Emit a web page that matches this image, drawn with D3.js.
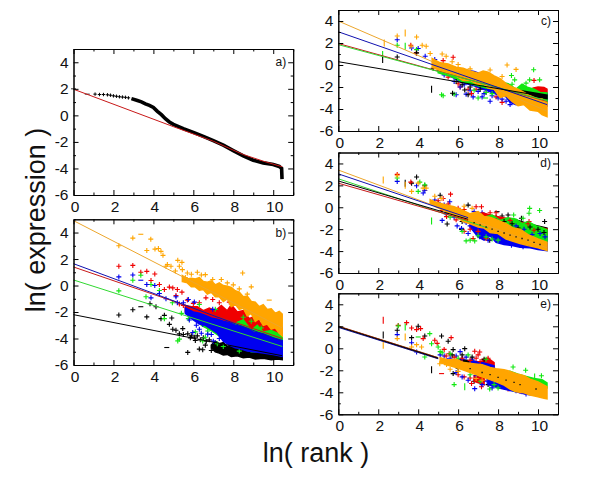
<!DOCTYPE html>
<html><head><meta charset="utf-8">
<script src="https://d3js.org/d3.v7.min.js"></script>
<style>html,body{margin:0;background:#fff}svg{display:block}text{font-family:"Liberation Sans",Arial,sans-serif;fill:#111}</style>
</head><body><svg id="c" width="600" height="487"></svg>
<script>
// ---- tick labels
const xTicks=[0,2,4,6,8,10], xMinor=[1,3,5,7,9,11];
const yTicks=[-6,-4,-2,0,2,4], yMinor=[-5,-3,-1,1,3,5];
const titleY="ln( expression )", titleX="ln( rank )";
const palette={black:"#000",red:"#f00000",green:"#10e810",blue:"#0000f0",orange:"#ffa500"};
const lineColors={black:"#000",red:"#c81818",green:"#30d830",blue:"#1010b0",orange:"#eca62c"};

// ---- panel a
const aSparseCurve=[[1.08,1.6],[1.3,1.57],[1.5,1.57],[1.7,1.55],[1.85,1.52],[2,1.47],[2.15,1.44],[2.3,1.4],[2.45,1.38],[2.6,1.36],[2.75,1.32]];
const aDenseCurve=[[2.9,1.26],[3.2,1.12],[3.4,1.02],[3.6,.87],[3.8,.75],[4,.6],[4.2,.3],[4.4,.05],[4.6,-.25],[4.8,-.5],[5,-.68],[5.5,-1],[6,-1.28],[6.5,-1.58],[7,-1.9],[7.5,-2.25],[8,-2.65],[8.5,-3.05],[9,-3.38],[9.5,-3.58],[10,-3.7],[10.3,-3.85],[10.42,-4],[10.44,-4.8]];
const aSparse=[[0,2],[.69,1.6]];
const aRedLine=[[0,1.97],[5,-.85],[7,-1.95],[8.5,-2.95],[9.5,-3.45],[10.45,-3.87]];

// ---- panel b
const bOrangeLine=[[0,4.9],[10.45,-3.2]], bRedLine=[[0,1.4],[10.45,-4]], bBlueLine=[[0,1.65],[10.45,-4.2]], bGreenLine=[[0,.42],[10.45,-4.6]], bBlackLine=[[0,-2.2],[10.45,-5.3]];
const bBlackBand=[[6.9,-4.5,-4.7],[7.1,-4.2,-5],[7.3,-4.4,-5.1],[7.5,-4.3,-5.25],[7.7,-4.6,-5.2],[7.9,-4.5,-5.35],[8.2,-4.8,-5.3],[8.5,-4.7,-5.45],[8.8,-5,-5.4],[9.1,-4.9,-5.55],[9.5,-5.05,-5.5],[9.9,-5.1,-5.6],[10.2,-5,-5.55],[10.45,-5.1,-5.6]];
const bRedBand=[[5.6,-1.5,-2],[5.9,-1.6,-2.3],[6.2,-1.6,-2.4],[6.5,-1.9,-2.6],[6.8,-1.7,-2.8],[7.1,-1.9,-2.8],[7.4,-1.5,-3],[7.7,-1.9,-3],[7.9,-1.45,-3.1],[8.2,-2,-3.2],[8.5,-1.9,-3.4],[8.8,-2.5,-3.5],[9.1,-2.3,-3.6],[9.4,-2.9,-3.8],[9.7,-2.7,-4],[10,-3.1,-4],[10.25,-2.9,-4.1],[10.45,-3.2,-4.2]];
const bGreenBand=[[6.4,-2.6,-3],[6.9,-2.8,-3.4],[7.5,-2.9,-4],[8,-2.9,-4.4],[8.5,-2.6,-4.8],[8.9,-3.4,-5],[9.2,-3,-5],[9.5,-3.5,-5],[9.9,-3.4,-5],[10.2,-3.6,-5.2],[10.45,-3.75,-5.2]];
const bBlueBand=[[5.6,-1.7,-2.1],[6,-2,-2.6],[6.3,-2.1,-2.9],[6.6,-2.25,-3],[6.9,-2.45,-3.3],[7.2,-2.55,-3.6],[7.5,-2.7,-4.2],[7.8,-2.8,-4.5],[8.1,-3,-4.7],[8.4,-3.1,-4.8],[8.7,-3.25,-4.95],[9,-3.5,-5],[9.5,-3.65,-5.1],[10,-3.95,-5.2],[10.45,-4.15,-5.35]];
const bOrangeBand=[[5.45,.75,.3],[5.7,.5,.2],[5.9,.55,-.1],[6.1,.5,-.1],[6.3,.6,-.35],[6.5,.3,-.3],[6.7,.25,-.65],[6.9,.35,-.5],[7.1,.05,-.85],[7.3,.2,-.85],[7.5,0,-1.2],[7.7,-.05,-1],[7.9,-.15,-1.6],[8.1,-.4,-1.4],[8.3,-.5,-1.8],[8.5,-.85,-1.7],[8.7,-.8,-2.3],[8.9,-1.2,-2.1],[9.1,-1.25,-2.7],[9.3,-1.6,-2.5],[9.5,-1.45,-3],[9.7,-1.8,-2.9],[9.9,-1.75,-3.3],[10.1,-2.1,-3.2],[10.3,-1.95,-3.6],[10.45,-2.15,-3.8]];
const bOrangePts=[[2.27,3],[2.97,3.58],[3.87,3.5],[3.67,2.65],[4.08,2.75],[4.25,2.8],[4.38,2.58],[4.48,2.28],[4.63,1.45],[4.7,1.58],[4.88,1.45],[5.22,1.9],[5.43,1.75],[5.3,1.45],[5.7,.95],[5.6,.6],[6.2,1],[6.6,.82],[6.97,.45],[7.4,.45],[8.47,.95],[8.9,-.1],[5.1,1.1],[5.45,1.2],[5.9,.85],[6.4,.8],[7.7,.2],[8,.05],[8.3,-.25],[8.7,-.65]];
const bOrangeDash=[[3.37,3.87],[9.8,-1.1]];
const bRedPts=[[2.27,1.45],[2.97,1.52],[3.37,1],[3.67,1.07],[4.07,.87],[3.88,.38],[4.3,.08],[4.55,-.3],[4.8,-.12],[4.97,-.18],[5.2,-.3],[5.43,-.5],[5.13,-.75],[6.63,-.93],[6.97,-1.05],[6.3,-1.3],[5.7,-1.1],[6,-1.35],[7.3,-1.3],[7.8,-1.25],[8.3,-1.6],[8.7,-1.75],[9.3,-2.5],[9.7,-2.5],[5.3,-1.4],[5.5,-1.5]];
const bBluePts=[[2.27,.65],[2.97,.8],[3.67,.08],[4.07,0],[3.88,-.93],[4.3,-.6],[4.63,-1],[5.13,-.85],[5.75,-1.05],[6.05,-1.25],[6.97,-1.8],[6.3,-3.3],[5.97,-3.55],[6.47,-2.93],[6.72,-3.67],[7.1,-3.1],[5.5,-1.3],[5.2,-1.3],[6.15,-3],[5.8,-2.6],[6.4,-3.6],[6.9,-3.7],[7,-4.2],[7.3,-4]];
const bBlueDash=[[3.37,.4]];
const bGreenPts=[[2.27,-.4],[2.97,.4],[3.37,.78],[3.88,.08],[4.3,-.37],[3.63,-.85],[4.55,-2.5],[5.22,-4.18],[5.97,-2.43],[6.3,-1.43],[6.47,-4.18],[6.72,-3.43],[7.1,-1.8],[5.75,-2.5],[5.3,-4.05],[4.95,-1.3],[5.4,-2.1],[6.1,-3.5],[6.6,-3.9],[7.2,-4.4],[7.5,-4.6],[8.3,-4.95],[8.9,-2.7],[8.5,-2.4],[9.4,-3.2]];
const bBlackPts=[[2.27,-2.22],[2.97,-1.83],[3.67,-2.37],[3.83,-1.38],[4.13,-1.6],[4.38,-2.5],[4.55,-2.25],[4.92,-2.45],[4.8,-2.93],[4.97,-3.3],[5.13,-3.38],[5.47,-3.25],[5.72,-5.05],[6.3,-4.8],[6.47,-4.85],[5.72,-3.65],[5.3,-3.65],[5.5,-3.7],[5.9,-3.8],[6.05,-3.9],[6.2,-3.8],[6.35,-4.1],[6.5,-3.95],[6.65,-4.2],[6.8,-4.1],[6.9,-4.9],[6.1,-4.15],[5.85,-3.95],[6.6,-4.5]];
const bBlackDash=[[3.37,-1.6],[4.67,-4.68]];

// ---- panel c
const cOrangeLine=[[0,4],[10.45,-4.2]], cBlueLine=[[0,3.02],[10.45,-3.6]], cRedLine=[[0,1.95],[10.45,-3.3]], cGreenLine=[[0,1.85],[10.45,-3.25]], cBlackLine=[[0,.3],[10.45,-2.9]];
const cRedBand=[[9.75,-2.1,-2.5],[10,-2,-2.7],[10.3,-2.05,-2.6],[10.45,-2.2,-2.7]];
const cBlueBand=[[5,.2,-.5],[5.6,-.1,-1],[6.2,-.4,-1.6],[6.8,-.6,-1.9],[7.4,-1,-2.3],[8,-1.5,-2.7],[8.4,-1.9,-2.9],[8.6,-2.3,-3.4],[8.9,-2.4,-3.6],[9.3,-2.4,-3.3],[9.8,-2.5,-3.4],[10.45,-2.6,-3.7]];
const cGreenBand=[[5,0,-.7],[5.6,-.3,-1],[6.2,-.6,-1.5],[6.8,-.9,-1.8],[7.4,-1.2,-2.1],[8,-1.5,-2.2],[8.5,-1.7,-2.5],[8.9,-2.2,-2.7],[9.2,-1.75,-2.9],[9.5,-2.05,-2.9],[9.8,-2.2,-3.1],[10.1,-2.5,-3.1],[10.45,-2.55,-3.4]];
const cBlackBand=[[7.4,-1.5,-1.8],[8.2,-1.9,-2.2],[9,-2.3,-2.6],[10.45,-2.75,-3.05]];
const cOrangeBand=[[4.7,.6,-.2],[5.1,.2,-.5],[5.5,.1,-.8],[5.9,-.2,-1],[6.25,-.3,-1.4],[6.6,-.55,-1.4],[7,-.75,-1.8],[7.25,-.55,-1.7],[7.5,-.65,-2.1],[7.8,-1,-2.2],[8.1,-1.25,-2.95],[8.4,-1.7,-2.8],[8.7,-2,-3.3],[9,-2.2,-3.7],[9.3,-2.5,-3.6],[9.6,-2.8,-4.1],[10,-3.1,-4.2],[10.2,-3.1,-4.5],[10.45,-3.4,-4.7]];
const cOrangePts=[[2.95,2.63],[3.92,2.55],[4.2,1.8],[4.4,1.7],[3.65,1.7],[5.2,1],[5.4,.8],[8.45,0],[8.9,-.4],[4.6,1.05],[5.7,.3],[6,.05],[6.6,-.35],[7.6,-.45],[8.2,-1.05]];
const cOrangeTall=[[2.3,2],[3.35,2.9]];
const cBluePts=[[2.95,2.3],[3.67,1.55],[4,1.5],[4.35,.8],[4.83,.5],[5.9,-2.7],[6.4,-2.65],[7.6,-3.3],[8.4,-3.3],[8.6,-3.6],[6.75,-2.9],[7.2,-2.9],[5.3,-.9],[5.8,-1.5],[6.1,-2],[6.3,-1.8],[6.6,-2.3],[7,-2.4],[7.3,-2.6],[7.7,-2.8],[8,-3],[8.2,-3.1]];
const cRedPts=[[3.63,1.8],[3.9,1.1],[5.75,.7],[5.25,.4],[6.1,-2],[6.67,-2.6],[8.2,-3.4],[9.8,-1.4],[5.5,-1.1],[6,-1.7],[6.5,-2.2],[6.9,-2.2],[7.4,-2.5],[7.9,-2.9],[8.7,-3.1]];
const cGreenPts=[[2.95,1.8],[3.92,1.4],[5.17,-2.7],[5.25,-2.8],[5.8,-2.65],[7,-3],[8.67,-.95],[8.83,-1.35],[9.78,-.43],[9.58,-1.35],[9.4,-1.65],[9.25,-1.95],[10.08,-1.35],[6.8,-2.3],[7.4,-2.5],[7.7,-2.6],[8.1,-1.5],[8.7,-1.75]];
const cGreenTall=[[2.22,.95],[3.35,1.7]];
const cGreenDash=[[7.37,-3]];
const cBlackPts=[[2.95,.73],[3.92,1.1],[5.72,-2.57],[6.33,-2.27],[6.5,-2.7],[4.75,-.3],[5.9,-1.5],[6.2,-1.8],[6.6,-2],[7.1,-2.2]];
const cBlackTall=[[2.22,.5],[4.67,-2.2]];

// ---- panel d
const dOrangeLine=[[0,3.4],[10.45,-3.7]], dBlueLine=[[0,3.05],[6.5,-.95]], dGreenLine=[[0,2.6],[7.5,-1.9]], dBlackLine=[[0,2.4],[6.5,-1.1]], dRedLine=[[0,2.2],[6.5,-1.2]];
const dBlackBand=[[8.2,-1.1,-1.6],[8.8,-1.1,-1.7],[9.5,-1.5,-2],[10.45,-1.9,-2.5]];
const dRedBand=[[7.2,-.5,-1],[7.8,-.8,-1.3],[8.4,-1,-1.6],[9.2,-1.4,-2],[10,-1.8,-2.3],[10.45,-2,-2.5]];
const dBlueBand=[[6.6,-1.5,-1.8],[7,-1.7,-2.7],[7.3,-1.8,-3],[7.6,-2.1,-2.6],[7.9,-2,-3.2],[8.3,-2.4,-3.4],[8.7,-2.5,-3.5],[9.1,-2.6,-3.65],[9.6,-2.8,-3.7],[10,-2.2,-3.85],[10.45,-2.4,-3.95]];
const dGreenBand=[[6.8,-.7,-1.3],[7.3,-.9,-1.6],[7.7,-.7,-1.9],[8.1,-1.2,-2],[8.5,-.95,-2.2],[8.9,-1.1,-2.5],[9.2,-1.5,-2.7],[9.5,-1.3,-2.8],[9.9,-1.7,-2.9],[10.15,-1.85,-3],[10.45,-2.05,-3.1]];
const dOrangeBand=[[4.6,.7,.35],[4.9,.45,.05],[5.4,.2,-.4],[5.8,.05,-.75],[6.25,-.3,-1.3],[6.6,-.6,-1.5],[7,-.4,-1.8],[7.3,-.85,-1.9],[7.6,-.9,-2.3],[8,-1.2,-2.4],[8.4,-1.5,-2.9],[8.75,-1.9,-3.1],[9.1,-2,-3.3],[9.5,-2.5,-3.5],[10,-2.9,-3.7],[10.45,-3.2,-3.95]];
const dOrangePts=[[2.95,2.88],[3.67,1.45],[4,2.2],[4.25,1.75],[4.4,1.75],[4.83,1],[5.15,.8],[6.3,.1],[6.7,-.1]];
const dOrangeTall=[[2.25,2.5],[3.35,2]];
const dGreenPts=[[2.95,2.67],[4,1.45],[4.08,2.3],[4.33,2.05],[6.4,-3.07],[6.6,-3],[6.83,-3.07],[9.55,-.55],[9.58,-.1],[10.08,-.3],[8.78,-.7],[9.25,-1],[6.2,-2.2],[5.6,-.9],[7,-2.6],[7.4,-2.7],[7.7,-2.9],[8,-3]];
const dGreenTall=[[4.67,-1.26]];
const dRedPts=[[2.95,3],[3.63,2.3],[5.62,1.2],[5.25,.8],[5.42,-.85],[5.9,-1.15],[7.17,.05],[7.4,-2.85],[6.75,-2.85],[9.55,-1.3],[6.3,-2.2],[6.6,-2],[7,-2.2],[7.9,-.5],[7.6,-.5],[6.9,.05],[5,.6],[5.5,.3],[6,-.1],[5.2,-.3],[6.3,-.2]];
const dBluePts=[[2.95,2.36],[3.92,1.96],[4.25,1.3],[4.83,.67],[4.33,1.53],[5.58,.5],[6.17,-1.93],[7.08,-2.7],[7.5,-3],[8.67,-3.47],[9.25,-3.6],[6.6,-1.7],[6.9,-1.5],[6.5,-2.4],[5.2,-1.2],[5.95,-1.7],[5,.4],[5.3,.2],[5.6,-.2],[5.9,-.4],[6.2,-.6],[5.4,-.6],[5.8,-.9],[6.4,-1.4],[6.8,-.4],[7.2,-.5]];
const dBlackPts=[[3.92,2.76],[3.67,2.2],[4.33,1.96],[6.5,.2],[5.45,-1.53],[7.58,-3],[10.33,-1.3],[9.17,-1],[5.1,1.1],[6.2,-1.3],[7.3,-2],[7.7,-2.55],[7.9,-.9],[8.2,-.8],[8.5,-.7]];
const dBlackDash=[[7.95,-.4],[6.17,-2.02]];
const dBlackTall=[[3.35,2.2]];
const dDarkDots=[[6.8,-1.4],[7.1,-1.6],[7.4,-1.8],[7.7,-2],[8,-2.2],[8.3,-2.35],[8.6,-2.55],[8.9,-2.7],[9.2,-2.85],[9.5,-3],[9.8,-3.2],[10.1,-3.4]];
const dTopBlack=[[7.6,-1.1],[8,-1.5],[8.3,-1.3],[8.7,-1.5],[9,-1.9],[9.6,-1.8],[10,-2],[10.3,-2.3]];
const dTopRed=[[7.9,-1.2],[8.6,-1.2],[9.5,-1.5],[9.8,-2.1]];
const dTopBlue=[[8.3,-1.7],[8.9,-1.7],[9.3,-2],[9.7,-2.5],[10.1,-2.4],[10.35,-2.7]];

// ---- panel e
const eGreenLine=[[0,2],[5,-.85]], eOrangeLine=[[0,1.95],[5,-.95]], eBlueLine=[[0,1.9],[5,-.95]], eRedLine=[[0,2.02],[5,-.85]], eBlackLine=[[0,1.97],[5,-.9]];
const eRedBand=[[7.2,-1,-1.5],[7.5,-.9,-1.7],[7.8,-1.3,-1.9]];
const eRedLow=[[6.8,-2.5,-3],[7.3,-2.7,-3.3]];
const eBlueBand=[[6.6,-1.1,-1.5],[7.2,-1.3,-1.9],[7.8,-1.6,-2.3]];
const eBlueLow=[[7.5,-2.8,-3.3],[8,-2.9,-3.6],[8.5,-3.2,-3.8],[9,-3.5,-4],[9.5,-3.8,-4.2],[10,-4,-4.3]];
const eGreenBand=[[8.6,-2.1,-2.5],[9,-2.35,-2.9],[9.4,-2.55,-3.1],[9.8,-2.75,-3.3],[10.2,-2.85,-3.5],[10.45,-3.15,-3.6]];
const eBlackBand=[[6.1,-1,-1.3],[6.8,-1.2,-1.6]];
const eOrangeBand=[[5.1,-.85,-1.3],[5.5,-1.05,-1.55],[5.9,-1,-1.75],[6.3,-1.3,-2],[6.75,-1.4,-2.3],[7.2,-1.5,-2.6],[7.6,-1.75,-2.85],[7.9,-1.85,-3.05],[8.3,-1.95,-3.35],[8.6,-2.1,-3.7],[8.9,-2.3,-3.95],[9.3,-2.5,-4.05],[9.6,-2.8,-4.25],[10,-3.05,-4.4],[10.3,-3.35,-4.55],[10.45,-3.5,-4.6]];
const eOrangePts=[[2.95,.88],[3.67,.12],[3.92,.33],[4.17,.12],[5.08,-1.4],[5.42,-1.48],[5.6,-1.9],[6,-2.1],[6.9,-2.75],[7.2,-2.9]];
const eOrangeTall=[[2.25,.27],[3.35,1.03]];
const eGreenPts=[[3,2.03],[4.33,-.79],[4.58,1.33],[4.67,.42],[5,.12],[5.8,-3.3],[7.58,-3.7],[8.75,-1.7],[9.38,-2],[10.17,-2.5],[5.1,-.3],[6,-.9],[7.1,-3],[8,-3.6],[8.8,-3.75],[6.6,-2.4],[7.8,-3.3]];
const eGreenTall=[[3.35,1.94],[6.33,-3.5],[9.83,-2.6]];
const eGreenDash=[[4,1.03]];
const eRedPts=[[3,2.08],[3.42,2.33],[3.67,1.85],[3.92,1.7],[4.12,1.79],[4.25,.88],[4.83,.73],[5.65,.97],[6.67,-3.2],[7.17,-3.5],[6.83,-.27],[7.08,-.33],[4.95,.45],[5.3,-.1],[5.55,-.5],[6,-2.4],[6.3,-2.6],[6.9,-2.8],[7.3,-2.9],[7.5,-.9],[7.7,-3],[8.1,-3.3],[8.5,-3.7],[9.1,-3.9],[6.6,-2.7]];
const eRedTall=[[2.25,2.55]];
const eRedDash=[[5.17,-2.3]];
const eBluePts=[[2.95,1.24],[3.67,.5],[3.92,-.33],[6.83,-3.67],[8.58,-3.67],[5.1,-.6],[5.9,-2.2],[6.2,-2.6],[6.5,-2.9],[6.9,-2.5],[7.2,-3.3],[7.45,-3],[7.7,-3.6],[8,-3.1],[8.3,-3.5],[8.7,-3.4],[8.9,-3.85],[9.2,-3.95],[9.4,-4.15],[6.1,-.3],[5.3,-.7],[5.6,-.9],[5.9,-.7],[6.2,-1],[6.4,-.8],[5.45,-1.1],[6,-1.2],[6.7,-1]];
const eBlackPts=[[2.95,1.64],[3.67,.97],[4,2],[4.33,1.12],[5.17,1.12],[5.5,.64],[5.75,-.12],[6.33,-.03],[5.75,-2.3],[6,-1.8],[6.8,-3],[7.5,-3.3]];
const eBlackTall=[[2.25,1.2],[4.67,-1.94]];
const eDarkDots=[[6.6,-1.85],[7.2,-2.2],[7.6,-2.4],[8,-2.65],[8.4,-2.9],[8.8,-3.1],[9.1,-3.3],[9.9,-3.7]];
const eTopRed=[[5.4,-.7],[5.8,-.8],[6.2,-.9],[6.6,-1.1],[6.9,-.9],[7,-.6],[7.1,-1.2]];
const eTopBlack=[[5.7,-.6],[6.2,-.6],[6.7,-.8],[7.3,-1]];
const eTopGreen=[[5.2,-.4],[5.6,-.5],[6.5,-.6],[7.4,-1]];

// ---- panels: frames come from the picture
const panels=[
 {label:"a)",l:73.5,t:49,b:195,lines:[["red",aRedLine]],layers:[],sparseCurve:aSparseCurve,denseCurve:aDenseCurve,sparse:aSparse},
 {label:"b)",l:73.5,t:219.3,b:365,layers:[
  ["black",bBlackBand,bBlackPts,bBlackDash,[]],["red",bRedBand,bRedPts,[],[]],["green",bGreenBand,bGreenPts,[],[]],["blue",bBlueBand,bBluePts,bBlueDash,[]],["orange",bOrangeBand,bOrangePts,bOrangeDash,[]]],
  lines:[["black",bBlackLine],["orange",bOrangeLine],["red",bRedLine],["blue",bBlueLine],["green",bGreenLine]]},
 {label:"c)",l:338.3,t:10,b:131,layers:[
  ["red",cRedBand,cRedPts,[],[]],["blue",cBlueBand,cBluePts,[],[]],["green",cGreenBand,cGreenPts,cGreenDash,cGreenTall],["black",cBlackBand,cBlackPts,[],cBlackTall],["orange",cOrangeBand,cOrangePts,[],cOrangeTall]],
  lines:[["orange",cOrangeLine],["red",cRedLine],["green",cGreenLine],["blue",cBlueLine],["black",cBlackLine]]},
 {label:"d)",l:338.3,t:152.5,b:273,layers:[
  ["black",dBlackBand,dBlackPts,dBlackDash,dBlackTall],["blue",dBlueBand,dBluePts,[],[]],["red",dRedBand,dRedPts,[],[]],["green",dGreenBand,dGreenPts,[],dGreenTall],["black",[],dTopBlack,[],[]],["red",[],dTopRed,[],[]],["blue",[],dTopBlue,[],[]],["orange",dOrangeBand,dOrangePts,[],dOrangeTall]],
  lines:[["orange",dOrangeLine],["blue",dBlueLine],["green",dGreenLine],["black",dBlackLine],["red",dRedLine]],dots:dDarkDots},
 {label:"e)",l:338.3,t:293.3,b:414.3,layers:[
  ["black",eBlackBand,eBlackPts,[],eBlackTall],["red",eRedBand,eRedPts,eRedDash,eRedTall],["red",eRedLow,[],[],[]],["blue",eBlueBand,eBluePts,[],[]],["blue",eBlueLow,[],[],[]],["green",eGreenBand,eGreenPts,eGreenDash,eGreenTall],["red",[],eTopRed,[],[]],["black",[],eTopBlack,[],[]],["green",[],eTopGreen,[],[]],["orange",eOrangeBand,eOrangePts,[],eOrangeTall]],
  lines:[["green",eGreenLine],["red",eRedLine],["orange",eOrangeLine],["blue",eBlueLine],["black",eBlackLine]],dots:eDarkDots}
];

const svg=d3.select("#c");
const W=219.7;
const plus="M-2.5,0H2.5M0,-2.5V2.5", smallPlus="M-1.7,0H1.7M0,-1.7V1.7", dash="M-2.5,0H2.5", tallMark="M0,-3.5V3.5";
panels.forEach(p=>{
  const x=d3.scaleLinear().domain([0,11]).range([p.l,p.l+W]);
  const y=d3.scaleLinear().domain([-6,5]).range([p.b,p.t]);
  const g=svg.append("g");
  const area=d3.area().x(d=>x(d[0])).y0(d=>y(d[1])).y1(d=>y(d[2]));
  const ln=d3.line().x(d=>x(d[0])).y(d=>y(d[1]));
  const marks=(pts,col,sym,sw=1.1)=>g.append("g").selectAll("path").data(pts).join("path")
     .attr("d",sym).attr("transform",d=>`translate(${x(d[0])},${y(d[1])})`).attr("stroke",col).attr("stroke-width",sw).attr("fill","none");
  if(p.denseCurve){
    g.append("path").attr("d",ln(p.denseCurve)).attr("fill","none").attr("stroke","#000").attr("stroke-width",3.6);
    marks(p.sparseCurve,"#000",smallPlus,1);
    marks(p.sparse,"#000",dash,.8);
  }
  p.layers.forEach(([name,band,pts,dashes,tall])=>{
    const col=palette[name];
    if(band.length) g.append("path").attr("d",area(band)).attr("fill",col).attr("stroke",col).attr("stroke-width",1.5);
    marks(pts,col,plus);
    marks(dashes,col,dash);
    marks(tall,col,tallMark);
  });
  p.lines.forEach(([name,data])=>{
    g.append("path").attr("d",ln(data)).attr("fill","none").attr("stroke",lineColors[name]).attr("stroke-width",1);
  });
  if(p.dots) marks(p.dots,"#111","M-.7,0H.7",1.3);
  const fmt=d=>String(d);
  const ax=(axis,ticks,len,labels,pad)=>axis.tickValues(ticks).tickSize(-len).tickSizeOuter(0).tickPadding(pad).tickFormat(labels?fmt:"");
  const put=(a,dx,dy)=>{
    const s=svg.append("g").attr("transform",`translate(${dx},${dy})`).call(a);
    s.attr("font-family",null).attr("font-size",null);
    s.selectAll("text").attr("font-size",15.5).attr("font-family",'"Liberation Sans",Arial,sans-serif').style("fill","#111");
    s.selectAll("line,path").attr("stroke","#000").attr("stroke-width",1);
    return s;
  };
  put(ax(d3.axisBottom(x),xTicks,5,true,6),0,p.b).selectAll("text").attr("dx",1);
  put(ax(d3.axisBottom(x),xMinor,2.5,false,0),0,p.b);
  put(ax(d3.axisTop(x),xTicks,5,false,0),0,p.t);
  put(ax(d3.axisTop(x),xMinor,2.5,false,0),0,p.t);
  put(ax(d3.axisLeft(y),yTicks,5,true,5),p.l,0);
  put(ax(d3.axisLeft(y),yMinor,2.5,false,0),p.l,0);
  put(ax(d3.axisRight(y),yTicks,5,false,0),p.l+W,0);
  put(ax(d3.axisRight(y),yMinor,2.5,false,0),p.l+W,0);
  svg.append("text").attr("x",p.l+W-7).attr("y",y(4)+4).attr("text-anchor","end").attr("font-size",12).text(p.label);
});
svg.append("text").attr("transform","translate(45,220) rotate(-90)").attr("text-anchor","middle").attr("font-size",27).text(titleY);
svg.append("text").attr("x",316).attr("y",462).attr("text-anchor","middle").attr("font-size",27).text(titleX);
</script></body></html>
